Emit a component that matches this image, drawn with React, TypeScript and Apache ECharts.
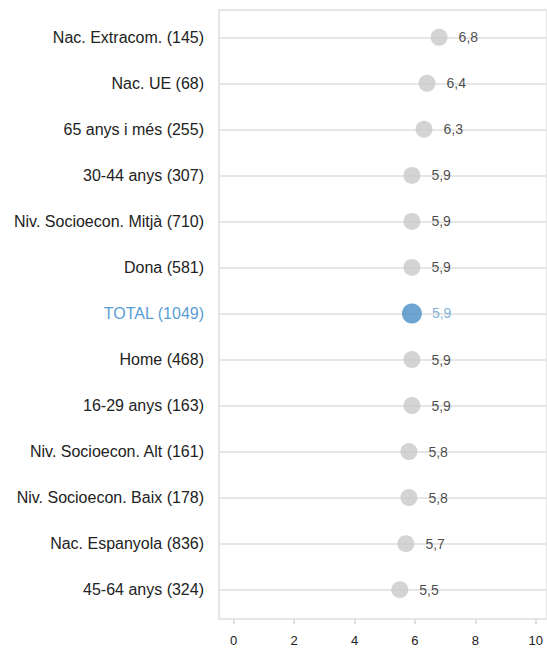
import React, { useEffect, useRef } from "react";
import * as echarts from "echarts";

const categories = [
  "Nac. Extracom. (145)",
  "Nac. UE (68)",
  "65 anys i més (255)",
  "30-44 anys (307)",
  "Niv. Socioecon. Mitjà (710)",
  "Dona (581)",
  "TOTAL (1049)",
  "Home (468)",
  "16-29 anys (163)",
  "Niv. Socioecon. Alt (161)",
  "Niv. Socioecon. Baix (178)",
  "Nac. Espanyola (836)",
  "45-64 anys (324)",
];
const values = [6.8, 6.4, 6.3, 5.9, 5.9, 5.9, 5.9, 5.9, 5.9, 5.8, 5.8, 5.7, 5.5];
const totalLabel = "TOTAL (1049)";
const xTicks = [0, 2, 4, 6, 8, 10];

const FONT = "'Liberation Sans', Arial, sans-serif";
const GRAY = "#c9c9c9";
const BLUE = "#4a8fc4";
const BLUE_TEXT = "#5a9dd3";
const LINE = "#e6e6e6";

export default function App() {
  const ref = useRef<HTMLDivElement>(null);
  useEffect(() => {
    if (!ref.current) return;
    const chart = echarts.init(ref.current, undefined, { renderer: "svg" });
    const idx = categories.map((_, i) => i);
    const data = values.map((v, i) => {
      const isTotal = categories[i] === totalLabel;
      return {
        value: [v, i],
        symbolSize: isTotal ? 20 : 17,
        itemStyle: { color: isTotal ? BLUE : GRAY },
        label: {
          color: isTotal ? BLUE_TEXT : "#1a1a1a",
          distance: isTotal ? 10 : 11,
        },
      };
    });
    chart.setOption({
      animation: false,
      textStyle: { fontFamily: FONT },
      grid: {
        left: 219,
        right: -2,
        top: 10,
        bottom: 30,
        show: true,
        borderColor: LINE,
        borderWidth: 2,
        backgroundColor: "transparent",
      },
      xAxis: {
        type: "value",
        min: -0.484,
        max: 10.37,
        axisLine: { show: true, onZero: false, lineStyle: { color: LINE, width: 2 } },
        axisTick: {
          show: true,
          customValues: xTicks,
          length: 5,
          lineStyle: { color: "#e0e0e0", width: 2 },
        },
        axisLabel: {
          customValues: xTicks,
          margin: 15,
          fontSize: 13,
          color: "#222",
          fontFamily: FONT,
        },
        splitLine: { show: false },
      },
      yAxis: {
        type: "value",
        inverse: true,
        min: -0.593,
        max: 12.637,
        axisLine: { show: true, onZero: false, lineStyle: { color: LINE, width: 2 } },
        axisTick: { show: false, customValues: idx },
        splitLine: {
          show: true,
          customValues: idx,
          lineStyle: { color: LINE, width: 2 },
        },
        axisLabel: {
          customValues: idx,
          margin: 15,
          fontSize: 16,
          color: "#222",
          fontFamily: FONT,
          formatter: (v: number) => {
            const name = categories[Math.round(v)] ?? "";
            return name === totalLabel ? `{t|${name}}` : name;
          },
          rich: {
            t: { color: BLUE_TEXT, fontSize: 16, fontFamily: FONT },
          },
        },
      },
      series: [
        {
          type: "scatter",
          data,
          label: {
            show: true,
            position: "right",
            fontSize: 14,
            color: "#1a1a1a",
            fontFamily: FONT,
            formatter: (p: any) => p.value[0].toFixed(1).replace(".", ","),
          },
        },
      ],
    });
    return () => chart.dispose();
  }, []);
  return (
    <div
      ref={ref}
      style={{ position: "fixed", left: 0, top: 0, width: 547, height: 649, background: "#fff" }}
    />
  );
}
